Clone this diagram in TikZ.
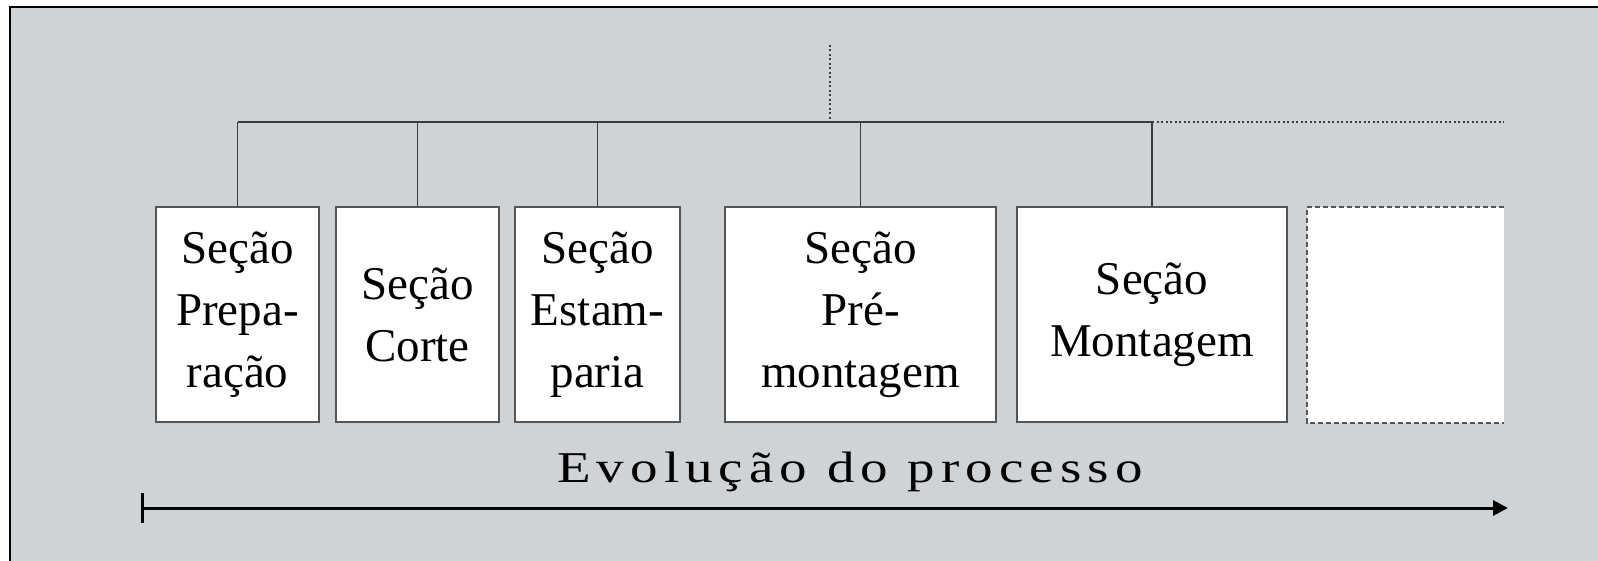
\documentclass[tikz,border=0pt]{standalone}
\usepackage{fontspec}
\setmainfont{Liberation Serif}
\usetikzlibrary{arrows.meta}
\definecolor{bggray}{RGB}{208,211,214}
\definecolor{boxline}{RGB}{85,85,85}
\definecolor{treeline}{RGB}{60,60,60}
\tikzset{
  secbox/.style={draw=boxline, line width=1.5pt, fill=white, rectangle, align=center,
    minimum height=215pt, inner sep=0pt, font=\fontsize{47}{62}\selectfont},
  tree/.style={draw=treeline, line width=1.3pt},
  dots/.style={draw=treeline, line width=2pt, dash pattern=on 2pt off 2.5pt},
  dashbox/.style={draw=boxline, line width=2pt, dash pattern=on 5pt off 3pt},
  evo/.style={font=\fontsize{44}{50}\selectfont\addfontfeature{LetterSpace=11}}
}
\begin{document}
\begin{tikzpicture}[x=1pt,y=-1pt]
\useasboundingbox (0,0) rectangle (1598,561);
\fill[white] (0,0) rectangle (1598,561);
\fill[bggray] (10,7) rectangle (1598,561);
\draw[black, line width=2pt] (10,561) -- (10,7) -- (1598,7);

\node[secbox, minimum width=163pt] (b1) at (237.5,314.5) {Seção\\Prepa-\\ração};
\node[secbox, minimum width=163pt] (b2) at (417.5,314.5) {Seção\\Corte};
\node[secbox, minimum width=165pt] (b3) at (597.5,314.5) {Seção\\Estam-\\paria};
\node[secbox, minimum width=271pt] (b4) at (860.5,314.5) {Seção\\Pré-\\montagem};
\node[secbox, minimum width=270pt] (b5) at (1152,314.5) {Seção\\Montagem};
\node[fill=white, rectangle, minimum width=197pt, minimum height=215pt, inner sep=0pt] (b6) at (1405.5,315) {};
\draw[dashbox] (b6.north east) -- (b6.north west) -- (b6.south west) -- (b6.south east);

\coordinate (hub) at (830,122);
\coordinate (top) at (830,45);
\coordinate (dotend) at (1504,122);
\draw[dots] (top) -- (hub);
\draw[tree] (b1.north |- hub) -- (b5.north |- hub);
\draw[dots] (b5.north |- hub) -- (dotend);
\foreach \b in {b1,b2,b3,b4,b5} \draw[tree] (\b.north) -- (\b.north |- hub);

\node[evo] (evo) at (850,472) {\scalebox{1.25}[1]{Evolução do processo}};

\coordinate (astart) at (141,508);
\coordinate (aend) at (1508,508);
\draw[black, line width=3pt, {Bar[width=30pt,line width=3pt]}-{Triangle[length=15pt,width=15pt]}] (astart) -- (aend);
\end{tikzpicture}
\end{document}
